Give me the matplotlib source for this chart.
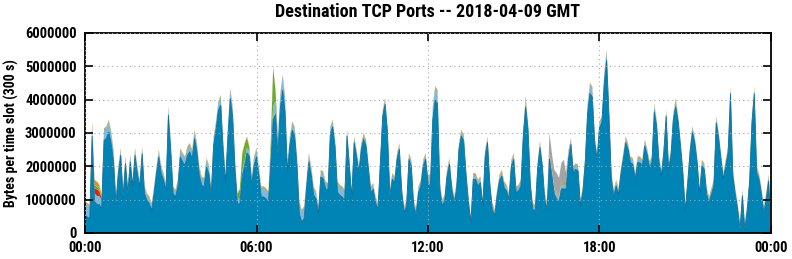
import numpy as np
import matplotlib
matplotlib.use('Agg')
import matplotlib.pyplot as plt
from matplotlib import font_manager

# values in units of 10 kB per 5-minute slot (289 slots, 00:00 .. 24:00)
total = [95, 90, 85, 335, 160, 155, 145, 115, 315, 320, 340, 305, 250, 110, 200, 255, 130, 230, 140, 235,
         160, 255, 200, 160, 260, 140, 120, 110, 90, 140, 200, 250, 200, 180, 150, 380, 270, 140, 130, 160,
         255, 240, 230, 260, 270, 250, 310, 270, 200, 170, 165, 225, 205, 140, 290, 335, 395, 415, 280, 180,
         320, 435, 380, 220, 120, 135, 240, 270, 290, 260, 170, 230, 255, 200, 140, 140, 135, 125, 280, 500,
         430, 290, 420, 475, 410, 210, 290, 335, 320, 230, 95, 70, 80, 160, 240, 200, 140, 125, 80, 190,
         185, 155, 150, 320, 340, 280, 155, 145, 140, 130, 310, 220, 125, 290, 250, 200, 270, 300, 280, 210,
         140, 150, 110, 90, 230, 370, 405, 320, 130, 180, 170, 240, 270, 140, 80, 100, 240, 220, 100, 75,
         140, 160, 220, 240, 170, 180, 380, 440, 430, 150, 100, 115, 190, 225, 150, 110, 150, 270, 310, 295,
         190, 110, 50, 180, 180, 160, 170, 100, 250, 290, 160, 90, 70, 130, 175, 190, 155, 145, 120, 220,
         240, 140, 145, 160, 310, 410, 330, 160, 90, 85, 210, 275, 220, 120, 95, 300, 240, 190, 180, 165,
         210, 220, 180, 250, 285, 200, 210, 205, 100, 140, 230, 390, 450, 440, 290, 240, 335, 350, 480, 550,
         380, 180, 130, 160, 135, 195, 240, 290, 270, 230, 225, 180, 230, 230, 220, 280, 255, 215, 230, 390,
         340, 230, 190, 260, 370, 210, 250, 360, 405, 355, 280, 200, 85, 165, 260, 320, 290, 230, 135, 220,
         210, 135, 110, 135, 160, 350, 305, 240, 180, 220, 260, 440, 190, 135, 90, 30, 130, 30, 85, 170,
         350, 440, 200, 180, 135, 80, 120, 175, 50]

lightblue = ([35] * 3 + [30] + [25] * 4 + [30] * 5 + [15] * 22 + [20] + [15] * 4 + [20] * 17
             + [25] * 7 + [15] * 6 + [20] * 4 + [25] * 4 + [40] * 7 + [20] * 5 + [30] * 3 + [20] * 4
             + [15] * 9 + [25] * 4 + [12] * 35 + [35] * 4 + [12] * 36 + [25] + [12] * 25 + [25] * 3
             + [12] * 4 + [25] * 3 + [12] * 18 + [20] + [12] * 8 + [20] + [12] * 22 + [15] + [12] * 9
             + [15] + [12] * 7)

red = [1] * 3 + [5, 15, 20, 15, 6] + [1] * 281
green = ([2] * 3 + [4, 10, 8, 6, 4] + [2] * 56 + [10, 30, 50, 50, 30, 10] + [2] * 8
         + [30, 115, 30, 10] + [2] * 207)
orange = [3] * 3 + [5, 15, 15, 12, 6] + [3] * 281
grey = [1] * 194 + [5, 60, 50, 55, 60, 55, 60, 70, 30, 10] + [1] * 85

total = np.array(total, dtype=float) * 1e4
layers = [np.array(v, dtype=float) * 1e4 for v in (lightblue, red, green, orange, grey)]
main = np.clip(total - sum(layers), 0, None)

hours = np.arange(len(total)) / 12.0

colors = ['#0083b5', '#7fbadb', '#d42a10', '#6aab34', '#d8961c', '#a3a3a3']

# look for a narrow bold face, like the original
narrow = None
for f in font_manager.fontManager.ttflist:
    if f.name in ('Liberation Sans Narrow', 'Roboto Condensed') and f.weight in (700, 'bold'):
        narrow = f.fname
        break
if narrow is None:
    for f in font_manager.fontManager.ttflist:
        if 'DejaVuSansCondensed-Bold.ttf' in f.fname:
            narrow = f.fname
            break
if narrow is not None:
    nfont = font_manager.FontProperties(fname=narrow)
else:
    nfont = font_manager.FontProperties(family='DejaVu Sans', weight='bold', stretch='condensed')

fig = plt.figure(figsize=(7.92, 2.59), dpi=100)
ax = fig.add_axes([85 / 792, 26 / 259, 686 / 792, 200 / 259])

ax.stackplot(hours, main, *layers, colors=colors, linewidth=0)
ax.plot(hours, main, color='#136d96', lw=0.6)

ax.set_xlim(0, 24)
ax.set_ylim(0, 6e6)
ax.set_xticks([0, 6, 12, 18, 24])
ax.set_xticklabels(['00:00', '06:00', '12:00', '18:00', '00:00'])
ax.set_yticks(np.arange(0, 7e6, 1e6))
ax.set_yticklabels([str(int(v)) for v in np.arange(0, 7e6, 1e6)])
ax.grid(True, color='#aaaaaa', linestyle=(0, (1, 3)), lw=0.8)
ax.set_axisbelow(False)
ax.tick_params(direction='in', length=6, width=1.2, top=True, right=True)
ax.tick_params(axis='x', pad=6)
ax.tick_params(axis='y', pad=6)
for lab in ax.get_xticklabels():
    lab.set_fontproperties(nfont)
    lab.set_fontsize(10.5)
for lab in ax.get_yticklabels():
    lab.set_fontproperties(nfont)
    lab.set_fontsize(10.5)
for s in ax.spines.values():
    s.set_linewidth(1.3)

fig.text(11 / 792, 1 - 133 / 259, 'Bytes per time slot (300 s)', fontproperties=nfont,
         fontsize=10, rotation=90, ha='center', va='center')
fig.text(428 / 792, 1 - 12 / 259, 'Destination TCP Ports -- 2018-04-09 GMT', fontproperties=nfont,
         fontsize=13, ha='center', va='center')

fig.savefig('out.png', dpi=100)
